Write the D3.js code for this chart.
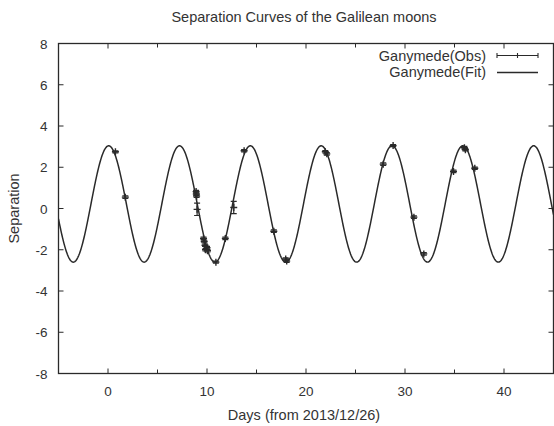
<!DOCTYPE html>
<html>
<head>
<meta charset="utf-8">
<script src="https://cdn.jsdelivr.net/npm/d3@7"></script>
<style>
  body { margin: 0; background: #fff; }
  text { font-family: "Liberation Sans", Arial, sans-serif; fill: #333; }
</style>
</head>
<body>
<svg id="chart" width="554" height="426"></svg>
<script>
// observed separations (days from 2013/12/26, separation, error)
var obsDay = [0.75, 1.75, 8.9, 8.92, 8.95, 9.0, 9.65, 9.72, 9.8, 9.85, 10.0, 10.05, 10.9, 11.85, 12.7, 13.75,
              16.75, 17.95, 18.05, 21.95, 22.1, 27.8, 28.8, 30.9, 31.9, 34.9, 36.0, 36.1, 37.05];
var obsSep = [2.75, 0.55, 0.82, 0.7, 0.6, -0.04, -1.45, -1.6, -1.78, -2.0, -1.9, -2.05, -2.6, -1.45, 0.05, 2.8,
              -1.1, -2.45, -2.55, 2.75, 2.65, 2.15, 3.05, -0.42, -2.2, 1.8, 2.95, 2.85, 1.95];
var obsErr = [0.05, 0.06, 0.06, 0.06, 0.06, 0.3, 0.06, 0.06, 0.06, 0.06, 0.06, 0.06, 0.05, 0.06, 0.3, 0.05,
              0.06, 0.06, 0.06, 0.06, 0.06, 0.06, 0.05, 0.06, 0.06, 0.06, 0.06, 0.06, 0.06];

// fitted sinusoid: offset, amplitude, period (days), day of maximum
var fitParams = [0.22, 2.82, 7.155, 0.07];

var xTicks = [-5, 0, 5, 10, 15, 20, 25, 30, 35, 40, 45];
var xLabels = [0, 10, 20, 30, 40];
var yTicks = [-8, -6, -4, -2, 0, 2, 4, 6, 8];

var svg = d3.select("#chart");
var pLeft = 58.5, pRight = 553.5, pTop = 43.5, pBottom = 373.5;
var ink = "#2a2a2a";

var x = d3.scaleLinear().domain([-5, 45]).range([pLeft, pRight]);
var y = d3.scaleLinear().domain([-8, 8]).range([pBottom, pTop]);

svg.append("clipPath").attr("id", "clip")
    .append("rect").attr("x", pLeft).attr("y", pTop).attr("width", pRight - pLeft).attr("height", pBottom - pTop);

// ticks (inside, mirrored like gnuplot)
xTicks.forEach(function (t) {
    var len = (t % 10 === 0) ? 5 : 4;
    svg.append("line").attr("x1", x(t)).attr("x2", x(t)).attr("y1", pBottom).attr("y2", pBottom - len)
        .style("stroke", ink).style("stroke-width", 1);
    svg.append("line").attr("x1", x(t)).attr("x2", x(t)).attr("y1", pTop).attr("y2", pTop + len)
        .style("stroke", ink).style("stroke-width", 1);
});
yTicks.forEach(function (t) {
    svg.append("line").attr("x1", pLeft).attr("x2", pLeft + 5).attr("y1", y(t)).attr("y2", y(t))
        .style("stroke", ink).style("stroke-width", 1);
    svg.append("line").attr("x1", pRight).attr("x2", pRight - 5).attr("y1", y(t)).attr("y2", y(t))
        .style("stroke", ink).style("stroke-width", 1);
    svg.append("text").attr("x", 47.5).attr("y", y(t) + 5)
        .attr("text-anchor", "end").style("font-size", "13.5px").text(t);
});
xLabels.forEach(function (t) {
    svg.append("text").attr("x", x(t)).attr("y", 395.5)
        .attr("text-anchor", "middle").style("font-size", "13.5px").text(t);
});

// frame
svg.append("rect").attr("x", pLeft).attr("y", pTop).attr("width", pRight - pLeft).attr("height", pBottom - pTop)
    .style("fill", "none").style("stroke", ink).style("stroke-width", 1.3);

// fit curve
var fitDays = d3.range(-5, 45.001, 0.05);
var line = d3.line()
    .x(function (d) { return x(d); })
    .y(function (d) {
        return y(fitParams[0] + fitParams[1] * Math.cos(2 * Math.PI * (d - fitParams[3]) / fitParams[2]));
    });
svg.append("path").datum(fitDays).attr("d", line).attr("clip-path", "url(#clip)")
    .style("fill", "none").style("stroke", ink).style("stroke-width", 1.5);

// observations with error bars
var obs = svg.append("g").attr("clip-path", "url(#clip)");
obsDay.forEach(function (d, i) {
    var cx = x(d), cy = y(obsSep[i]);
    var y1 = y(obsSep[i] - obsErr[i]), y2 = y(obsSep[i] + obsErr[i]);
    obs.append("line").attr("x1", cx).attr("x2", cx).attr("y1", y1).attr("y2", y2)
        .style("stroke", ink).style("stroke-width", 1.2);
    [y1, y2].forEach(function (yy) {
        obs.append("line").attr("x1", cx - 3).attr("x2", cx + 3).attr("y1", yy).attr("y2", yy)
            .style("stroke", ink).style("stroke-width", 1.2);
    });
    obs.append("line").attr("x1", cx - 3.5).attr("x2", cx + 3.5).attr("y1", cy).attr("y2", cy)
        .style("stroke", ink).style("stroke-width", 1.4);
    obs.append("line").attr("x1", cx).attr("x2", cx).attr("y1", cy - 3.5).attr("y2", cy + 3.5)
        .style("stroke", ink).style("stroke-width", 1.4);
});

// legend
svg.append("text").attr("x", 486).attr("y", 60.5).attr("text-anchor", "end")
    .style("font-size", "14.5px").text("Ganymede(Obs)");
svg.append("text").attr("x", 486).attr("y", 76.5).attr("text-anchor", "end")
    .style("font-size", "14.5px").text("Ganymede(Fit)");
svg.append("line").attr("x1", 497).attr("x2", 538).attr("y1", 55.5).attr("y2", 55.5)
    .style("stroke", ink).style("stroke-width", 1.1);
[497, 517.5, 538].forEach(function (px) {
    svg.append("line").attr("x1", px).attr("x2", px).attr("y1", 53).attr("y2", 58)
        .style("stroke", ink).style("stroke-width", 1.1);
});
svg.append("line").attr("x1", 497).attr("x2", 538).attr("y1", 72.5).attr("y2", 72.5)
    .style("stroke", ink).style("stroke-width", 1.3);

// titles
svg.append("text").attr("x", 304).attr("y", 22).attr("text-anchor", "middle")
    .style("font-size", "14.5px").text("Separation Curves of the Galilean moons");
svg.append("text").attr("x", 304).attr("y", 420).attr("text-anchor", "middle")
    .style("font-size", "14.5px").text("Days (from 2013/12/26)");
svg.append("text").attr("transform", "translate(19," + y(0) + ") rotate(-90)")
    .attr("text-anchor", "middle").style("font-size", "14.5px").text("Separation");
</script>
</body>
</html>
